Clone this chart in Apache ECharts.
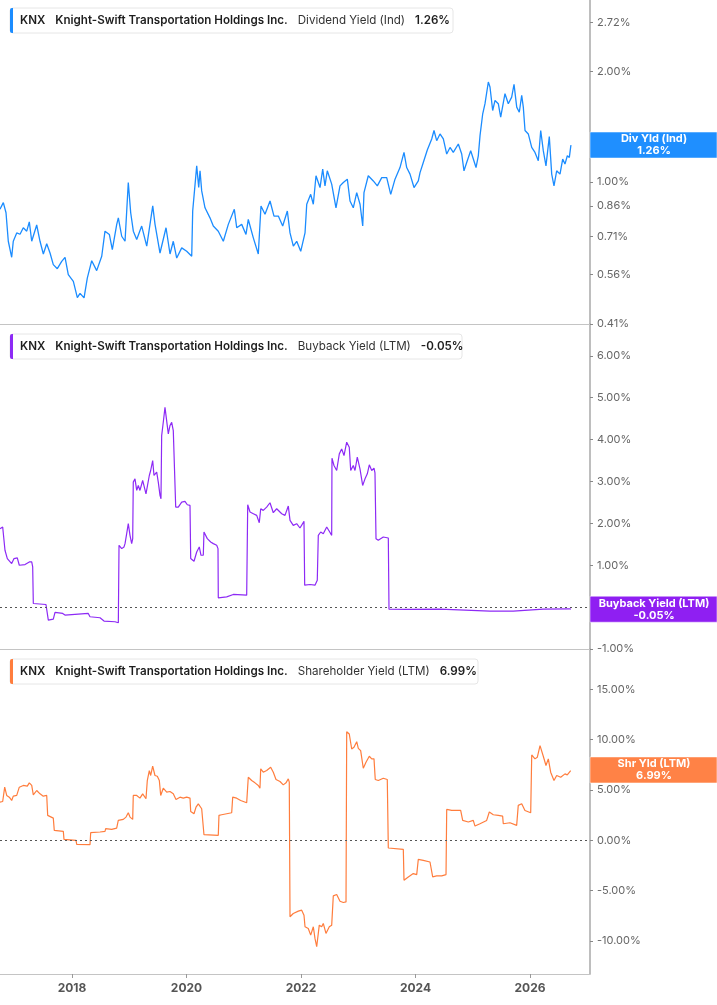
<!DOCTYPE html>
<html>
<head>
<meta charset="utf-8">
<script src="https://cdn.jsdelivr.net/npm/echarts@6/dist/echarts.min.js"></script>
<style>
  html, body { margin: 0; padding: 0; background: #fff; }
  #chart { width: 717px; height: 1005px; }
</style>
</head>
<body>
<div id="chart"></div>
<script>
// dates are decimal years
var divDates = [2016.742, 2016.800, 2016.847, 2016.887, 2016.946, 2016.974, 2017.034, 2017.092, 2017.149, 2017.209,
  2017.254, 2017.296, 2017.383, 2017.441, 2017.499, 2017.558, 2017.616, 2017.673, 2017.743, 2017.820,
  2017.878, 2017.935, 2018.023, 2018.093, 2018.140, 2018.210, 2018.267, 2018.344, 2018.431, 2018.519,
  2018.576, 2018.652, 2018.704, 2018.781, 2018.809, 2018.868, 2018.926, 2018.983, 2019.025, 2019.071,
  2019.130, 2019.217, 2019.305, 2019.362, 2019.410, 2019.450, 2019.537, 2019.642, 2019.712, 2019.769,
  2019.829, 2019.916, 2020.003, 2020.091, 2020.108, 2020.178, 2020.213, 2020.236, 2020.265, 2020.323,
  2020.410, 2020.468, 2020.555, 2020.643, 2020.730, 2020.835, 2020.877, 2020.964, 2021.039, 2021.079,
  2021.167, 2021.254, 2021.301, 2021.371, 2021.459, 2021.528, 2021.604, 2021.680, 2021.761, 2021.808,
  2021.866, 2021.925, 2021.995, 2022.070, 2022.100, 2022.169, 2022.215, 2022.262, 2022.332, 2022.379,
  2022.419, 2022.459, 2022.536, 2022.611, 2022.681, 2022.739, 2022.809, 2022.856, 2022.913, 2022.973,
  2023.031, 2023.078, 2023.100, 2023.175, 2023.263, 2023.333, 2023.410, 2023.497, 2023.567, 2023.642,
  2023.729, 2023.799, 2023.846, 2023.904, 2023.974, 2024.049, 2024.079, 2024.136, 2024.206, 2024.283,
  2024.323, 2024.370, 2024.428, 2024.486, 2024.545, 2024.603, 2024.660, 2024.748, 2024.807, 2024.847,
  2024.894, 2024.964, 2025.010, 2025.057, 2025.097, 2025.127, 2025.174, 2025.214, 2025.272, 2025.301,
  2025.348, 2025.389, 2025.446, 2025.488, 2025.563, 2025.621, 2025.680, 2025.721, 2025.768, 2025.813,
  2025.855, 2025.883, 2025.913, 2025.970, 2026.030, 2026.087, 2026.145, 2026.187, 2026.232, 2026.279,
  2026.337, 2026.379, 2026.419, 2026.466, 2026.524, 2026.571, 2026.611, 2026.652, 2026.687, 2026.711,
  2026.716];
var divValues = [0.842, 0.878, 0.824, 0.689, 0.623, 0.689, 0.726, 0.720, 0.750, 0.734,
  0.778, 0.689, 0.763, 0.689, 0.636, 0.678, 0.640, 0.595, 0.580, 0.607,
  0.623, 0.559, 0.536, 0.484, 0.497, 0.483, 0.547, 0.610, 0.573, 0.627,
  0.734, 0.719, 0.654, 0.766, 0.798, 0.711, 0.689, 0.996, 0.824, 0.734,
  0.697, 0.758, 0.668, 0.766, 0.860, 0.766, 0.640, 0.750, 0.636, 0.689,
  0.620, 0.661, 0.647, 0.627, 0.833, 1.106, 0.965, 1.072, 0.945, 0.850,
  0.798, 0.758, 0.734, 0.689, 0.766, 0.842, 0.750, 0.766, 0.719, 0.790,
  0.704, 0.636, 0.860, 0.816, 0.887, 0.807, 0.807, 0.758, 0.833, 0.726,
  0.668, 0.689, 0.647, 0.726, 0.869, 0.925, 0.869, 1.039, 0.965, 1.083,
  0.975, 1.072, 0.986, 0.850, 0.975, 0.996, 1.017, 0.887, 0.850, 0.935,
  0.869, 0.758, 0.935, 1.039, 1.006, 0.975, 1.027, 1.027, 0.925, 1.017,
  1.094, 1.203, 1.094, 1.050, 0.965, 1.006, 1.060, 1.129, 1.221, 1.309,
  1.380, 1.295, 1.351, 1.309, 1.191, 1.241, 1.203, 1.268, 1.191, 1.072,
  1.129, 1.216, 1.154, 1.094, 1.178, 1.337, 1.533, 1.633, 1.871, 1.813,
  1.565, 1.667, 1.633, 1.501, 1.739, 1.633, 1.702, 1.844, 1.598, 1.548,
  1.720, 1.598, 1.380, 1.351, 1.241, 1.203, 1.142, 1.380, 1.216, 1.106,
  1.328, 1.050, 0.975, 1.072, 1.050, 1.154, 1.118, 1.178, 1.166, 1.247,
  1.26];

var buyDates = [2016.742, 2016.789, 2016.812, 2016.829, 2016.870, 2016.946, 2016.987, 2017.044, 2017.079, 2017.179,
  2017.254, 2017.296, 2017.313, 2017.324, 2017.545, 2017.586, 2017.673, 2017.703, 2017.837, 2017.877,
  2018.284, 2018.314, 2018.489, 2018.559, 2018.751, 2018.809, 2018.821, 2018.868, 2018.908, 2018.926,
  2018.955, 2018.983, 2019.013, 2019.042, 2019.060, 2019.070, 2019.100, 2019.130, 2019.158, 2019.187,
  2019.234, 2019.292, 2019.350, 2019.374, 2019.409, 2019.432, 2019.479, 2019.507, 2019.537, 2019.554,
  2019.566, 2019.594, 2019.624, 2019.654, 2019.682, 2019.711, 2019.741, 2019.769, 2019.799, 2019.811,
  2019.856, 2019.916, 2019.973, 2020.014, 2020.061, 2020.073, 2020.131, 2020.178, 2020.223, 2020.253,
  2020.293, 2020.305, 2020.363, 2020.422, 2020.468, 2020.527, 2020.550, 2020.555, 2020.702, 2020.817,
  2021.051, 2021.069, 2021.109, 2021.167, 2021.226, 2021.271, 2021.296, 2021.341, 2021.400, 2021.458,
  2021.516, 2021.575, 2021.663, 2021.720, 2021.778, 2021.808, 2021.865, 2021.924, 2021.982, 2022.052,
  2022.064, 2022.157, 2022.244, 2022.284, 2022.302, 2022.344, 2022.389, 2022.449, 2022.494, 2022.536,
  2022.541, 2022.576, 2022.623, 2022.669, 2022.710, 2022.751, 2022.798, 2022.843, 2022.868, 2022.913,
  2022.943, 2022.983, 2023.030, 2023.077, 2023.118, 2023.158, 2023.193, 2023.235, 2023.275, 2023.292,
  2023.310, 2023.350, 2023.437, 2023.525, 2023.537, 2023.846, 2024.428, 2025.301, 2025.708, 2026.232,
  2026.698, 2026.716];
var buyValues = [1.873, 1.913, 1.952, 1.357, 1.159, 1.040, 1.159, 1.175, 1.000, 1.016,
  1.079, 1.079, 0.960, 0.087, 0.063, -0.310, -0.286, -0.127, -0.151, -0.190,
  -0.151, -0.230, -0.254, -0.333, -0.349, -0.373, 1.476, 1.397, 1.437, 1.516,
  1.754, 1.992, 1.714, 1.516, 1.635, 2.984, 3.063, 2.786, 2.905, 2.786,
  3.024, 2.706, 3.143, 3.262, 3.500, 3.143, 3.222, 2.984, 2.667, 2.587,
  4.095, 4.413, 4.770, 4.794, 4.135, 4.333, 4.413, 4.214, 4.175, 2.389,
  2.389, 2.508, 2.524, 2.444, 2.429, 1.159, 1.095, 1.317, 1.437, 1.238,
  1.238, 1.794, 1.635, 1.556, 1.516, 1.476, 1.397, 0.222, 0.246, 0.302,
  0.286, 2.444, 2.270, 2.230, 2.190, 2.016, 2.349, 2.310, 2.389, 2.492,
  2.254, 2.349, 2.230, 2.190, 2.413, 2.071, 1.952, 1.992, 1.889, 2.048,
  0.524, 0.540, 0.524, 0.643, 1.714, 1.794, 1.754, 1.913, 1.810, 1.714,
  3.556, 3.381, 3.262, 3.659, 3.778, 3.619, 3.937, 3.817, 3.262, 3.381,
  3.262, 3.579, 3.302, 2.905, 3.063, 3.183, 3.397, 3.262, 3.317, 3.206,
  1.635, 1.595, 1.675, 1.651, -0.048, -0.056, -0.048, -0.095, -0.095, -0.048,
  -0.040, -0.05];

var shrDates = [2016.742, 2016.789, 2016.824, 2016.859, 2016.904, 2016.946, 2016.974, 2017.034, 2017.062, 2017.079,
  2017.149, 2017.219, 2017.254, 2017.296, 2017.324, 2017.383, 2017.441, 2017.498, 2017.558, 2017.575,
  2017.673, 2017.690, 2017.848, 2017.860, 2018.070, 2018.082, 2018.314, 2018.326, 2018.489, 2018.576,
  2018.588, 2018.693, 2018.780, 2018.808, 2018.896, 2018.943, 2018.983, 2019.013, 2019.060, 2019.070,
  2019.130, 2019.187, 2019.234, 2019.292, 2019.315, 2019.350, 2019.374, 2019.409, 2019.449, 2019.490,
  2019.525, 2019.549, 2019.594, 2019.654, 2019.711, 2019.769, 2019.816, 2019.886, 2019.944, 2020.003,
  2020.061, 2020.073, 2020.131, 2020.166, 2020.206, 2020.265, 2020.293, 2020.305, 2020.555, 2020.567,
  2020.614, 2020.702, 2020.789, 2020.807, 2020.876, 2020.946, 2021.051, 2021.079, 2021.138, 2021.196,
  2021.254, 2021.283, 2021.296, 2021.341, 2021.400, 2021.470, 2021.516, 2021.563, 2021.633, 2021.690,
  2021.738, 2021.778, 2021.795, 2021.808, 2021.865, 2021.953, 2022.012, 2022.052, 2022.070, 2022.127,
  2022.169, 2022.215, 2022.244, 2022.274, 2022.319, 2022.361, 2022.389, 2022.436, 2022.494, 2022.536,
  2022.564, 2022.623, 2022.681, 2022.739, 2022.786, 2022.798, 2022.843, 2022.885, 2022.925, 2022.973,
  2023.001, 2023.042, 2023.088, 2023.135, 2023.193, 2023.235, 2023.275, 2023.297, 2023.350, 2023.437,
  2023.507, 2023.525, 2023.787, 2023.799, 2023.874, 2023.961, 2024.021, 2024.049, 2024.136, 2024.253,
  2024.300, 2024.370, 2024.458, 2024.533, 2024.545, 2024.632, 2024.719, 2024.789, 2024.824, 2024.922,
  2025.009, 2025.039, 2025.126, 2025.243, 2025.289, 2025.359, 2025.446, 2025.522, 2025.533, 2025.650,
  2025.767, 2025.795, 2025.855, 2025.912, 2026.012, 2026.030, 2026.087, 2026.127, 2026.175, 2026.232,
  2026.279, 2026.320, 2026.361, 2026.419, 2026.466, 2026.536, 2026.611, 2026.651, 2026.711, 2026.716];
var shrValues = [3.80, 3.86, 5.28, 4.46, 4.29, 3.96, 4.39, 4.46, 4.39, 5.28,
  5.45, 5.38, 5.71, 5.45, 4.52, 4.95, 4.62, 4.39, 4.46, 2.48,
  2.21, 0.99, 0.89, 0.10, 0.00, -0.40, -0.43, 0.76, 0.83, 0.89,
  1.16, 1.09, 1.22, 1.98, 2.08, 2.31, 2.74, 2.31, 2.08, 4.46,
  4.46, 4.19, 4.62, 4.13, 5.94, 6.93, 6.44, 7.36, 6.44, 6.37,
  5.94, 4.46, 5.18, 4.79, 4.85, 4.62, 4.06, 4.29, 4.19, 4.29,
  4.19, 2.87, 2.64, 3.30, 3.63, 3.14, 2.97, 0.56, 0.50, 2.48,
  2.54, 2.64, 2.74, 4.29, 4.19, 3.96, 3.73, 6.27, 5.94, 5.71,
  5.45, 5.18, 7.10, 6.77, 6.93, 7.26, 6.77, 6.04, 5.84, 5.51,
  5.71, 6.11, 5.78, -7.59, -7.26, -7.03, -6.93, -7.43, -8.58, -8.75,
  -9.41, -8.58, -9.74, -10.56, -8.42, -8.58, -8.25, -9.24, -8.58, -8.42,
  -5.51, -5.38, -6.04, -6.17, -6.11, 10.79, 10.56, 9.08, 9.24, 9.80,
  9.14, 8.91, 7.16, 7.76, 8.35, 8.09, 8.09, 6.04, 5.94, 6.17,
  6.04, -0.76, -0.89, -3.96, -3.63, -3.30, -3.40, -1.88, -1.98, -2.15,
  -3.63, -3.53, -3.53, -3.40, 3.07, 2.97, 2.97, 2.97, 1.98, 1.82,
  1.98, 1.42, 1.65, 1.98, 2.81, 2.54, 2.48, 2.41, 1.65, 1.75,
  1.49, 3.47, 3.63, 2.97, 2.74, 8.48, 8.09, 8.25, 9.41, 8.35,
  7.43, 8.09, 6.77, 5.94, 6.44, 6.27, 6.60, 6.50, 6.93, 6.99];

var divTicks = [0.41, 0.56, 0.71, 0.86, 1.00, 2.00, 2.72];
var buyTicks = [-1, 0, 1, 2, 3, 4, 5, 6];
var shrTicks = [-10, -5, 0, 5, 10, 15];
var yearTicks = [2018, 2020, 2022, 2024, 2026];

var panels = [
  { metric: 'Dividend Yield (Ind)', tag: 'Div Yld (Ind)', last: 1.26, color: '#1b8cff', box: '#1f8fff', boxW: 443 },
  { metric: 'Buyback Yield (LTM)', tag: 'Buyback Yield (LTM)', last: -0.05, color: '#8d2af5', box: '#8f1ff2', boxW: 452 },
  { metric: 'Shareholder Yield (LTM)', tag: 'Shr Yld (LTM)', last: 6.99, color: '#ff7d3d', box: '#ff8246', boxW: 468 }
];

var FONT = 'Inter, "Noto Sans", sans-serif';

function pairs(dates, values) {
  return dates.map(function (d, i) { return [d, values[i]]; });
}

var xMin = 2016.742;
var xMax = 2027.048;
var gridTops = [0, 324, 649];
var gridH = [324, 325, 325];

var chart = echarts.init(document.getElementById('chart'), null, { renderer: 'canvas' });

function xAxisFor(i) {
  var last = i === 2;
  return {
    type: 'value', gridIndex: i, min: xMin, max: xMax,
    axisLine: { show: true, onZero: false, lineStyle: { color: '#c4c4c4', width: 1 } },
    axisTick: { show: last, length: 4, lineStyle: { color: '#999' }, customValues: yearTicks },
    axisLabel: {
      show: last, customValues: yearTicks, color: '#555', fontSize: 12, fontWeight: 'bold',
      fontFamily: FONT, margin: 8,
      formatter: function (v) { return String(Math.round(v)); }
    },
    splitLine: { show: false }
  };
}

function yAxisFor(i, opts) {
  var base = {
    gridIndex: i, position: 'right',
    axisLine: { show: true, onZero: false, lineStyle: { color: '#a9a9a9', width: 1.5 } },
    axisTick: { show: true, length: 3, lineStyle: { color: '#888' }, customValues: opts.ticks },
    axisLabel: {
      customValues: opts.ticks, color: '#666', fontSize: 11, fontFamily: FONT, margin: 7,
      formatter: function (v) { return v.toFixed(2) + '%'; }
    },
    splitLine: { show: false }
  };
  return Object.assign(base, opts.extra);
}

var zeroLine = {
  silent: true, symbol: 'none',
  lineStyle: { type: [2, 3], color: '#555', width: 1 },
  label: { show: false },
  data: [{ yAxis: 0 }]
};

var option = {
  backgroundColor: '#fff',
  animation: false,
  grid: gridTops.map(function (t, i) {
    return { left: 0, right: 127, top: t, height: gridH[i] };
  }),
  xAxis: [xAxisFor(0), xAxisFor(1), xAxisFor(2)],
  yAxis: [
    yAxisFor(0, { ticks: divTicks, extra: { type: 'log', logBase: 10, min: 0.41, max: 3.13 } }),
    yAxisFor(1, { ticks: buyTicks, extra: { type: 'value', min: -1, max: 6.76 } }),
    yAxisFor(2, { ticks: shrTicks, extra: { type: 'value', min: -13.27, max: 19.0 } })
  ],
  series: [
    {
      name: 'Dividend Yield (Ind)', type: 'line', xAxisIndex: 0, yAxisIndex: 0,
      data: pairs(divDates, divValues), showSymbol: false,
      lineStyle: { color: panels[0].color, width: 1.3 }, itemStyle: { color: panels[0].color }
    },
    {
      name: 'Buyback Yield (LTM)', type: 'line', xAxisIndex: 1, yAxisIndex: 1,
      data: pairs(buyDates, buyValues), showSymbol: false,
      lineStyle: { color: panels[1].color, width: 1.2 }, itemStyle: { color: panels[1].color },
      markLine: zeroLine
    },
    {
      name: 'Shareholder Yield (LTM)', type: 'line', xAxisIndex: 2, yAxisIndex: 2,
      data: pairs(shrDates, shrValues), showSymbol: false,
      lineStyle: { color: panels[2].color, width: 1.2 }, itemStyle: { color: panels[2].color },
      markLine: zeroLine
    }
  ]
};

chart.setOption(option);

// legend boxes and the value tags on the right axis
var rich = {
  b: { fontFamily: FONT, fontSize: 11.6, fontWeight: 600, fill: '#1e1e1e' },
  n: { fontFamily: FONT, fontSize: 11.6, fontWeight: 400, fill: '#333' },
  g: { width: 10 }
};
var graphics = [];
panels.forEach(function (p, i) {
  var top = gridTops[i] + (i === 0 ? 8 : 10);
  graphics.push({
    type: 'group', x: 10, y: top,
    children: [
      { type: 'rect', z: 100, shape: { x: 0, y: 0, width: p.boxW, height: 25, r: 3 },
        style: { fill: '#fff', stroke: '#e6e6e6', lineWidth: 1 } },
      { type: 'rect', z: 101, shape: { x: 0, y: 0, width: 3, height: 25, r: [2, 0, 0, 2] },
        style: { fill: p.color } },
      { type: 'text', z: 101, x: 10, y: 13,
        style: {
          text: '{b|KNX}{g| }{b|Knight-Swift Transportation Holdings Inc.}{g| }{n|' + p.metric + '}{g| }{b|' +
            p.last.toFixed(2) + '%}',
          verticalAlign: 'middle',
          rich: rich
        } }
    ]
  });
  var cy = chart.convertToPixel({ yAxisIndex: i }, p.last);
  graphics.push({
    type: 'group', x: 590, y: cy - 13,
    children: [
      { type: 'rect', z: 100, shape: { x: 0, y: 0, width: 127, height: 26 },
        style: { fill: p.box, stroke: 'rgba(255,255,255,0.5)', lineWidth: 1 } },
      { type: 'text', z: 101, x: 64, y: 13,
        style: {
          text: p.tag + '\n' + p.last.toFixed(2) + '%', align: 'center', verticalAlign: 'middle',
          fontFamily: FONT, fontSize: 11, fontWeight: 'bold', fill: '#fff', lineHeight: 12
        } }
    ]
  });
});
chart.setOption({ graphic: graphics });
</script>
</body>
</html>
